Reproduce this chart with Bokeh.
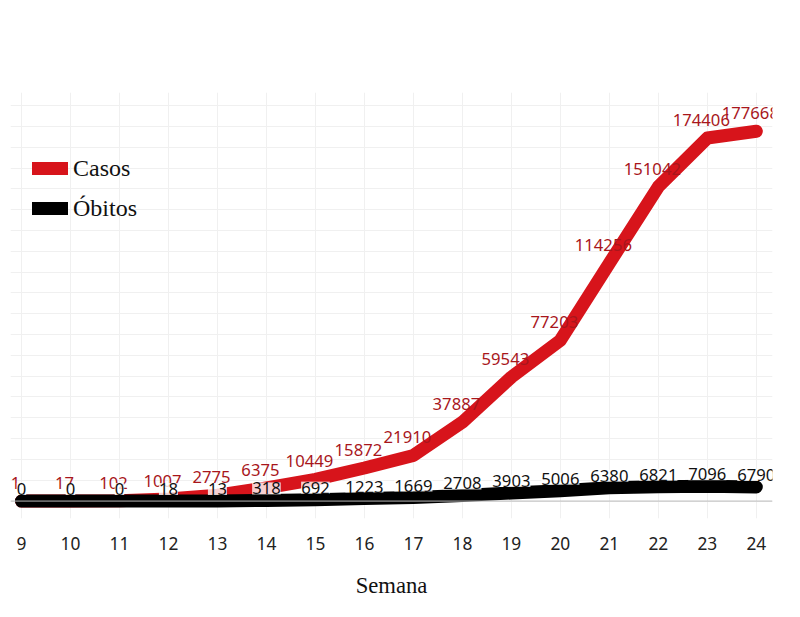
from bokeh.plotting import figure
from bokeh.models import ColumnDataSource, Span, Legend, LegendItem, Label
from bokeh.core.properties import value
from bokeh.embed import file_html
from bokeh.resources import INLINE

semanas = list(range(9, 25))
casos = [1, 17, 102, 1007, 2775, 6375, 10449, 15872, 21910, 37887, 59543, 77203, 114256, 151042, 174406, 177668]
obitos = [0, 0, 0, 18, 13, 318, 692, 1223, 1669, 2708, 3903, 5006, 6380, 6821, 7096, 6790]
titulo = ["Casos e óbitos confirmados", "de COVID-19 por semana (14/6)"]

LBL = "'Liberation Sans Narrow', 'Noto Sans', sans-serif"
SERIF = "'Liberation Serif', 'DejaVu Serif', serif"

p = figure(width=784, height=600, output_backend="svg", toolbar_location=None,
           x_range=(8.776, 24.33), y_range=(-8372, 196270),
           min_border_left=10, min_border_right=12, min_border_top=92, min_border_bottom=68)
p.title = None
p.outline_line_color = None
p.yaxis.visible = False
p.xaxis.ticker = semanas
p.xaxis.axis_line_color = None
p.xaxis.major_tick_line_color = None
p.xaxis.minor_tick_line_color = None
p.xaxis.major_label_text_font = "Noto Sans"
p.xaxis.major_label_text_font_size = "13pt"
p.xaxis.major_label_text_color = "#222222"
p.xaxis.major_label_standoff = 12
p.xaxis.axis_label = "Semana"
p.xaxis.axis_label_text_font = SERIF
p.xaxis.axis_label_text_font_style = "normal"
p.xaxis.axis_label_text_font_size = "17pt"
p.xaxis.axis_label_text_color = "#111111"
p.xaxis.axis_label_standoff = 20
p.xgrid.grid_line_color = "#f0f0f0"
p.ygrid.grid_line_color = "#f0f0f0"
p.ygrid.ticker = list(range(0, 200001, 10000))

p.add_layout(Span(location=0, dimension="width", line_color="#bbbbbb", line_width=1))

src = ColumnDataSource(dict(x=semanas, c=casos, o=obitos,
                            cl=[str(v) for v in casos], ol=[str(v) for v in obitos]))
lc = p.line("x", "c", source=src, line_color="#d7141b", line_width=13, line_join="round", line_cap="round")
lo = p.line("x", "o", source=src, line_color="#000000", line_width=13, line_join="round", line_cap="round")

p.text("x", "c", text="cl", source=src, text_align="center", text_baseline="bottom", y_offset=-12, x_offset=-6,
       text_color="#a8161b", text_font=value(LBL), text_font_size="12.5pt")
p.text("x", "o", text="ol", source=src, text_align="center", text_baseline="bottom", y_offset=-6,
       text_color="#111111", text_font=value(LBL), text_font_size="12.5pt",
       background_fill_color="white", background_fill_alpha=0.8)

leg = Legend(items=[LegendItem(label="Casos", renderers=[lc]), LegendItem(label="Óbitos", renderers=[lo])],
             location=(22, 292), background_fill_alpha=0, border_line_color=None,
             label_text_font=SERIF, label_text_font_size="18pt", label_text_color="#111111",
             glyph_width=36, glyph_height=24, label_height=36, spacing=4)
p.add_layout(leg)

for i, t in enumerate(titulo):
    p.add_layout(Label(x=12.55, y=231000 - i * 15000, text=t, text_align="center", text_baseline="middle",
                       text_font=SERIF, text_font_size="19pt", text_color="#111111"))

open("out.html", "w").write(file_html(p, INLINE))
